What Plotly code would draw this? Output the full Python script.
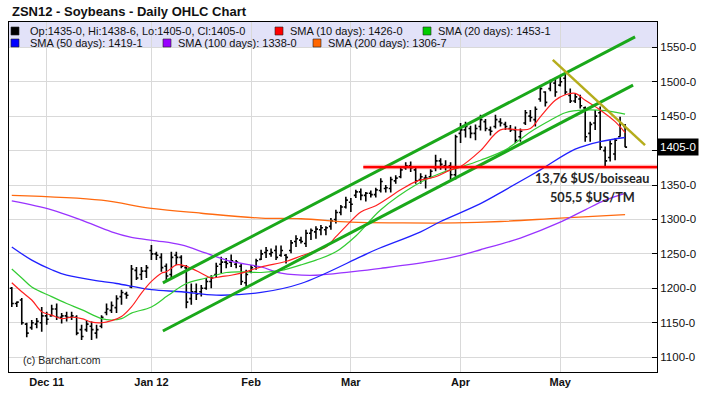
import plotly.graph_objects as go
import pandas as pd

# ---------------- data ----------------
holidays = ['2011-11-24', '2011-12-26', '2012-01-02', '2012-01-16', '2012-02-20', '2012-04-06']
dates = [d for d in pd.bdate_range('2011-11-21', '2012-05-18') if d.strftime('%Y-%m-%d') not in holidays]

opens = [1200, 1178, 1183, 1148, 1143, 1148, 1150,
         1160, 1160, 1170, 1158, 1160, 1158, 1158, 1140, 1140, 1145,
         1135, 1145, 1165, 1168, 1172, 1188, 1192, 1202, 1226, 1220,
         1225, 1255, 1250, 1245, 1232, 1220, 1248, 1245, 1230, 1185,
         1195, 1195, 1200, 1210, 1220, 1235, 1238, 1238, 1235, 1232,
         1208, 1225, 1232, 1242, 1252, 1250, 1255, 1248, 1248, 1255,
         1268, 1270, 1265, 1280, 1282, 1285, 1285, 1290, 1300, 1310,
         1318, 1325, 1335, 1340, 1335, 1338, 1336, 1342, 1345, 1345,
         1356, 1362, 1375, 1378, 1372, 1358, 1360, 1362, 1375, 1385,
         1378, 1378, 1365, 1425, 1430, 1432, 1425, 1435, 1442, 1430,
         1435, 1442, 1438, 1432, 1430, 1420, 1440, 1450, 1445, 1475,
         1485, 1490, 1498, 1495, 1505, 1480, 1472, 1475, 1462, 1425,
         1440, 1455, 1400, 1390, 1395, 1420, 1435]
highs = [1202, 1181, 1186, 1150, 1154, 1157, 1173,
         1166, 1176, 1178, 1164, 1166, 1166, 1161, 1147, 1154, 1152,
         1147, 1161, 1178, 1181, 1190, 1198, 1195, 1234, 1231, 1231,
         1234, 1263, 1253, 1251, 1236, 1253, 1253, 1248, 1234, 1207,
         1207, 1205, 1215, 1219, 1237, 1246, 1244, 1249, 1241, 1236,
         1227, 1234, 1243, 1256, 1260, 1258, 1262, 1262, 1250, 1270,
         1277, 1275, 1285, 1287, 1290, 1292, 1290, 1302, 1314, 1321,
         1333, 1331, 1343, 1345, 1340, 1342, 1346, 1360, 1350, 1362,
         1364, 1375, 1383, 1384, 1376, 1367, 1365, 1373, 1394, 1389,
         1386, 1383, 1423, 1440, 1442, 1436, 1438, 1452, 1446, 1435,
         1452, 1447, 1442, 1437, 1435, 1432, 1459, 1459, 1464, 1495,
         1486, 1503, 1505, 1507, 1512, 1490, 1483, 1481, 1464, 1442,
         1459, 1464, 1406, 1415, 1418, 1449, 1438.75]
lows = [1173, 1173, 1147, 1129, 1140, 1142, 1137,
        1147, 1159, 1154, 1149, 1152, 1154, 1132, 1125, 1137, 1125,
        1127, 1142, 1161, 1164, 1164, 1176, 1185, 1200, 1212, 1212,
        1215, 1241, 1241, 1224, 1212, 1215, 1234, 1229, 1171, 1176,
        1183, 1188, 1198, 1200, 1215, 1222, 1229, 1231, 1229, 1205,
        1203, 1222, 1227, 1241, 1244, 1246, 1241, 1246, 1236, 1251,
        1260, 1265, 1260, 1270, 1272, 1277, 1277, 1285, 1294, 1306,
        1316, 1311, 1331, 1328, 1326, 1332, 1332, 1339, 1339, 1339,
        1352, 1360, 1372, 1369, 1352, 1352, 1345, 1360, 1370, 1372,
        1371, 1358, 1358, 1411, 1419, 1418, 1415, 1429, 1428, 1422,
        1432, 1435, 1430, 1427, 1411, 1413, 1437, 1442, 1435, 1471,
        1464, 1486, 1478, 1493, 1481, 1469, 1469, 1461, 1413, 1413,
        1430, 1401, 1377, 1384, 1386, 1420, 1405]
closes = [1178, 1180, 1150, 1135, 1150, 1152, 1160,
          1155, 1170, 1158, 1160, 1158, 1160, 1135, 1130, 1148, 1140,
          1140, 1158, 1170, 1175, 1185, 1194, 1190, 1228, 1215, 1225,
          1230, 1250, 1248, 1230, 1218, 1245, 1245, 1232, 1180, 1195,
          1192, 1200, 1210, 1215, 1232, 1238, 1236, 1240, 1238, 1210,
          1220, 1230, 1240, 1250, 1255, 1252, 1245, 1255, 1245, 1266,
          1272, 1268, 1280, 1284, 1286, 1288, 1288, 1298, 1310, 1318,
          1328, 1322, 1340, 1335, 1338, 1336, 1343, 1355, 1346, 1358,
          1360, 1372, 1378, 1375, 1356, 1362, 1360, 1370, 1385, 1380,
          1376, 1365, 1420, 1430, 1435, 1425, 1432, 1445, 1432, 1428,
          1445, 1440, 1435, 1430, 1415, 1428, 1455, 1448, 1460, 1490,
          1470, 1500, 1485, 1500, 1485, 1472, 1478, 1465, 1420, 1438,
          1450, 1405, 1385, 1410, 1415, 1440, 1405]

# moving averages (bar index, value)
sma10_idx = [0, 2, 4, 6, 8, 10, 12, 14, 16, 18, 20, 22, 24, 26, 28, 30, 31, 33, 34, 36, 38, 40, 42, 44,
             46, 50, 55, 58, 60, 63, 65, 67, 70, 73, 78, 81, 85, 88, 90, 94, 98, 102, 104, 106, 109,
             111, 113, 115, 118, 121, 123]
sma10_val = [1208, 1195, 1183, 1166, 1161, 1156, 1158, 1156, 1151, 1150, 1153, 1159, 1173, 1193, 1210,
             1222, 1224, 1234, 1234, 1229, 1222, 1215, 1217, 1219, 1222, 1231, 1239, 1247, 1252, 1260,
             1275, 1290, 1311, 1320, 1343, 1355, 1362, 1372, 1377, 1400, 1430, 1430, 1432, 1449, 1473,
             1481, 1483, 1473, 1459, 1442, 1426]
sma20_idx = [0, 2, 4, 8, 11, 14, 18, 20, 22, 24, 28, 31, 32, 35, 39, 43, 46, 50, 54, 58, 61, 65, 69,
             74, 81, 86, 90, 94, 99, 104, 108, 111, 115, 119, 123]
sma20_val = [1228, 1215, 1202, 1188, 1178, 1169, 1156, 1154, 1156, 1164, 1173, 1188, 1193, 1207, 1215,
             1223, 1224, 1223, 1226, 1234, 1241, 1253, 1276, 1314, 1350, 1367, 1376, 1386, 1401, 1427,
             1444, 1455, 1459, 1458, 1453]
sma50_idx = [0, 4, 8, 11, 18, 21, 28, 34, 41, 50, 58, 70, 73, 82, 86, 94, 99, 106, 113, 118, 123]
sma50_val = [1260, 1241, 1227, 1219, 1210, 1207, 1198, 1195, 1190, 1194, 1207, 1246, 1256, 1282, 1297,
             1323, 1343, 1372, 1402, 1413, 1419]
sma100_idx = [0, 8, 14, 20, 24, 29, 34, 39, 44, 50, 54, 61, 68, 74, 84, 90, 94, 102, 110, 115, 119, 123]
sma100_val = [1327, 1314, 1299, 1282, 1274, 1269, 1263, 1251, 1239, 1231, 1222, 1219, 1224, 1229, 1239,
              1248, 1256, 1273, 1296, 1314, 1328, 1338]
sma200_idx = [0, 18, 28, 38, 50, 58, 68, 78, 89, 98, 110, 123]
sma200_val = [1335, 1328, 1316, 1309, 1302, 1301, 1296, 1295, 1295, 1297, 1302, 1307]

# hand-drawn lines (bar index, price)
channel_upper = ([30.3, 125.0], [1208, 1565])
channel_lower = ([30.3, 124.6], [1138, 1495])
support_line = ([70.5, 131.0], [1376, 1376])
resistance_line = ([108.5, 127.0], [1531.6, 1408])

ytick_vals = [1100, 1150, 1200, 1250, 1300, 1350, 1400, 1450, 1500, 1550]
ytick_text = ['1100-0', '1150-0', '1200-0', '1250-0', '1300-0', '1350-0', '', '1450-0', '1500-0', '1550-0']
month_labels = ['Dec 11', 'Jan 12', 'Feb', 'Mar', 'Apr', 'May']

legend_items = [
    ('Op:1435-0, Hi:1438-6, Lo:1405-0, Cl:1405-0', '#000000'),
    ('SMA (10 days): 1426-0', '#ff0000'),
    ('SMA (20 days): 1453-1', '#00cc00'),
    ('SMA (50 days): 1419-1', '#0000ff'),
    ('SMA (100 days): 1338-0', '#9900ff'),
    ('SMA (200 days): 1306-7', '#ff6600'),
]
last_close = 1405

# ---------------- layout helpers ----------------
W, H = 707, 396
ML, MR, MT, MB = 9, 50, 22, 24
PW, PH = W - ML - MR, H - MT - MB


def px(x):
    return (x - ML) / PW


def py(y):
    return (H - MB - y) / PH


xs = list(range(len(dates)))
month_idx = []
seen = set()
for k, d in enumerate(dates):
    key = (d.year, d.month)
    if key not in seen and d.month != 11:
        seen.add(key)
        month_idx.append(k)

fig = go.Figure()

fig.add_trace(go.Scatter(x=sma200_idx, y=sma200_val, mode='lines', line=dict(color='#ff6a10', width=1.3, shape='spline'), hoverinfo='skip'))
fig.add_trace(go.Scatter(x=sma100_idx, y=sma100_val, mode='lines', line=dict(color='#9933ff', width=1.3, shape='spline'), hoverinfo='skip'))
fig.add_trace(go.Scatter(x=sma50_idx, y=sma50_val, mode='lines', line=dict(color='#2020ff', width=1.3, shape='spline'), hoverinfo='skip'))
fig.add_trace(go.Scatter(x=sma20_idx, y=sma20_val, mode='lines', line=dict(color='#33cc33', width=1.2, shape='spline'), hoverinfo='skip'))
fig.add_trace(go.Scatter(x=sma10_idx, y=sma10_val, mode='lines', line=dict(color='#ff2020', width=1.2, shape='spline'), hoverinfo='skip'))

fig.add_trace(go.Ohlc(x=xs, open=opens, high=highs, low=lows, close=closes,
                      increasing=dict(line=dict(color='black', width=1.6)),
                      decreasing=dict(line=dict(color='black', width=1.6)),
                      tickwidth=0.4, hoverinfo='skip'))

for (lx, ly) in (channel_upper, channel_lower):
    fig.add_trace(go.Scatter(x=lx, y=ly, mode='lines', line=dict(color='#1aa81a', width=3), hoverinfo='skip'))
fig.add_trace(go.Scatter(x=support_line[0], y=support_line[1], mode='lines', line=dict(color='rgba(255,0,0,0.3)', width=4.5), hoverinfo='skip'))
fig.add_trace(go.Scatter(x=support_line[0], y=support_line[1], mode='lines', line=dict(color='#ff0000', width=2.4), hoverinfo='skip'))
fig.add_trace(go.Scatter(x=resistance_line[0], y=resistance_line[1], mode='lines', line=dict(color='#b5ad1c', width=2.5), hoverinfo='skip'))

shapes = [dict(type='rect', xref='x domain', yref='paper', x0=0, x1=1, y0=py(47.3), y1=1,
               fillcolor='#e2e2f8', line=dict(width=0), layer='below')]
annotations = []

# legend band
legend_pos = [(11, 31, 28), (275, 31, 288), (423, 31, 436), (11, 43, 28), (163, 43, 176), (313, 43, 326)]
for (text, color), (sx, sy, tx) in zip(legend_items, legend_pos):
    shapes.append(dict(type='rect', xref='paper', yref='paper', x0=px(sx), x1=px(sx + 8), y0=py(sy + 4), y1=py(sy - 4),
                       fillcolor=color, line=dict(color='#222', width=0.6), layer='above'))
    annotations.append(dict(xref='paper', yref='paper', x=px(tx), y=py(sy), text=text, showarrow=False,
                            xanchor='left', yanchor='middle', font=dict(family='Liberation Sans, Arial', size=11, color='#111')))

annotations += [
    dict(xref='paper', yref='paper', x=px(10), y=py(11.5), text='<b>ZSN12 - Soybeans - Daily OHLC Chart</b>',
         showarrow=False, xanchor='left', yanchor='middle', font=dict(family='Liberation Sans, Arial', size=13, color='#111')),
    dict(xref='paper', yref='paper', x=px(21), y=py(359.5), text='(c) Barchart.com', showarrow=False,
         xanchor='left', yanchor='middle', font=dict(family='Liberation Sans, Arial', size=10.5, color='#222')),
    dict(xref='paper', yref='paper', x=px(592), y=py(178), text='<b>13,76 $US/boisseau</b>', showarrow=False,
         xanchor='center', yanchor='middle', font=dict(family='Lato, Liberation Sans', size=12.7, color='#262626')),
    dict(xref='paper', yref='paper', x=px(592), y=py(197), text='<b>505,5 $US/TM</b>', showarrow=False,
         xanchor='center', yanchor='middle', font=dict(family='Lato, Liberation Sans', size=12.7, color='#262626')),
    dict(xref='paper', yref='y', x=1, y=last_close, text='1405-0', showarrow=False, xanchor='left', yanchor='middle',
         xshift=0, bgcolor='black', borderpad=2, font=dict(family='Liberation Sans, Arial', size=11.5, color='white')),
]

fig.update_layout(
    width=W, height=H, margin=dict(l=ML, r=MR, t=MT, b=MB, autoexpand=False),
    paper_bgcolor='white', plot_bgcolor='white', showlegend=False,
    shapes=shapes, annotations=annotations,
    xaxis=dict(range=[-0.56, 129.4], tickmode='array', tickvals=month_idx, ticktext=[f'<b>{t}</b>' for t in month_labels],
               showgrid=True, gridcolor='#d9d9d9', gridwidth=1, zeroline=False, rangeslider=dict(visible=False),
               showline=True, linecolor='black', linewidth=1, mirror=True, ticks='',
               tickfont=dict(family='Liberation Sans, Arial', size=11, color='#111'), fixedrange=True),
    yaxis=dict(range=[1078.5, 1586.7], side='right', tickmode='array', tickvals=ytick_vals, ticktext=ytick_text,
               showgrid=True, gridcolor='#d9d9d9', gridwidth=1, zeroline=False,
               showline=True, linecolor='black', linewidth=1, mirror=True, ticks='inside', ticklen=5, tickcolor='black',
               tickfont=dict(family='Liberation Sans, Arial', size=11.5, color='#111'), fixedrange=True),
)

fig.write_html('out.html', config={'displayModeBar': False},
               post_script="document.body.style.margin='0';document.body.style.overflow='hidden';")
